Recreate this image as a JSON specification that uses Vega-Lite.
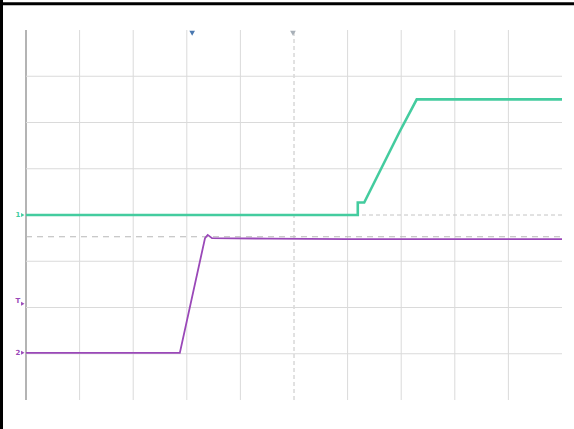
{
  "$schema": "https://vega.github.io/schema/vega-lite/v6.json",
  "width": 536,
  "height": 370,
  "autosize": {"type": "none"},
  "padding": {"left": 26, "top": 30, "right": 12, "bottom": 29},
  "background": "white",
  "config": {"view": {"stroke": null}},
  "layer": [
    {
      "data": {"values": [{"x": 1}, {"x": 2}, {"x": 3}, {"x": 4}, {"x": 6}, {"x": 7}, {"x": 8}, {"x": 9}]},
      "mark": {"type": "rule", "color": "#dadada", "strokeWidth": 1},
      "encoding": {
        "x": {"field": "x", "type": "quantitative", "scale": {"domain": [0, 10], "nice": false, "zero": false}, "axis": null},
        "y": {"datum": 0, "type": "quantitative", "scale": {"domain": [0, 8], "nice": false, "zero": false}, "axis": null},
        "y2": {"datum": 8}
      }
    },
    {
      "data": {"values": [{"x": 5}]},
      "mark": {"type": "rule", "color": "#c4c4c4", "strokeWidth": 1, "strokeDash": [4, 3]},
      "encoding": {
        "x": {"field": "x", "type": "quantitative", "scale": {"domain": [0, 10], "nice": false, "zero": false}, "axis": null},
        "y": {"datum": 0, "type": "quantitative", "scale": {"domain": [0, 8], "nice": false, "zero": false}, "axis": null},
        "y2": {"datum": 8}
      }
    },
    {
      "data": {"values": [{"x": 0}]},
      "mark": {"type": "rule", "color": "#b4b4b4", "strokeWidth": 2},
      "encoding": {
        "x": {"field": "x", "type": "quantitative", "scale": {"domain": [0, 10], "nice": false, "zero": false}, "axis": null},
        "y": {"datum": 0, "type": "quantitative", "scale": {"domain": [0, 8], "nice": false, "zero": false}, "axis": null},
        "y2": {"datum": 8}
      }
    },
    {
      "data": {"values": [{"y": 1}, {"y": 2}, {"y": 3}, {"y": 5}, {"y": 6}, {"y": 7}]},
      "mark": {"type": "rule", "color": "#dadada", "strokeWidth": 1},
      "encoding": {
        "y": {"field": "y", "type": "quantitative", "scale": {"domain": [0, 8], "nice": false, "zero": false}, "axis": null},
        "x": {"datum": 0, "type": "quantitative", "scale": {"domain": [0, 10], "nice": false, "zero": false}, "axis": null},
        "x2": {"datum": 10}
      }
    },
    {
      "data": {"values": [{"y": 4}]},
      "mark": {"type": "rule", "color": "#c4c4c4", "strokeWidth": 1, "strokeDash": [4, 3]},
      "encoding": {
        "y": {"field": "y", "type": "quantitative", "scale": {"domain": [0, 8], "nice": false, "zero": false}, "axis": null},
        "x": {"datum": 0, "type": "quantitative", "scale": {"domain": [0, 10], "nice": false, "zero": false}, "axis": null},
        "x2": {"datum": 10}
      }
    },
    {
      "data": {"values": [{"y": 3.53}]},
      "mark": {"type": "rule", "color": "#b8b8b8", "strokeWidth": 1.2, "strokeDash": [6, 5]},
      "encoding": {
        "y": {"field": "y", "type": "quantitative", "scale": {"domain": [0, 8], "nice": false, "zero": false}, "axis": null},
        "x": {"datum": 0, "type": "quantitative", "scale": {"domain": [0, 10], "nice": false, "zero": false}, "axis": null},
        "x2": {"datum": 10}
      }
    },
    {
      "data": {"values": [
        {"t": 0, "x": 0, "y": 4.0},
        {"t": 1, "x": 6.19, "y": 4.0},
        {"t": 2, "x": 6.19, "y": 4.27},
        {"t": 3, "x": 6.31, "y": 4.27},
        {"t": 4, "x": 6.97, "y": 5.8},
        {"t": 5, "x": 7.29, "y": 6.5},
        {"t": 6, "x": 10, "y": 6.5}
      ]},
      "mark": {"type": "line", "color": "#44cc9f", "strokeWidth": 2.6, "interpolate": "linear"},
      "encoding": {
        "x": {"field": "x", "type": "quantitative", "scale": {"domain": [0, 10], "nice": false, "zero": false}, "axis": null},
        "y": {"field": "y", "type": "quantitative", "scale": {"domain": [0, 8], "nice": false, "zero": false}, "axis": null},
        "order": {"field": "t"}
      }
    },
    {
      "data": {"values": [
        {"t": 0, "x": 0, "y": 1.02},
        {"t": 1, "x": 2.87, "y": 1.02},
        {"t": 2, "x": 3.34, "y": 3.5},
        {"t": 3, "x": 3.39, "y": 3.57},
        {"t": 4, "x": 3.47, "y": 3.5},
        {"t": 5, "x": 4.5, "y": 3.49},
        {"t": 6, "x": 6.0, "y": 3.48},
        {"t": 7, "x": 10, "y": 3.48}
      ]},
      "mark": {"type": "line", "color": "#9a48b8", "strokeWidth": 1.8, "interpolate": "linear"},
      "encoding": {
        "x": {"field": "x", "type": "quantitative", "scale": {"domain": [0, 10], "nice": false, "zero": false}, "axis": null},
        "y": {"field": "y", "type": "quantitative", "scale": {"domain": [0, 8], "nice": false, "zero": false}, "axis": null},
        "order": {"field": "t"}
      }
    },
    {
      "data": {"values": [{"x": 3.1, "y": 7.93, "c": "a"}, {"x": 4.98, "y": 7.93, "c": "b"}]},
      "mark": {"type": "point", "shape": "triangle-down", "filled": true, "size": 32, "opacity": 1},
      "encoding": {
        "x": {"field": "x", "type": "quantitative", "scale": {"domain": [0, 10], "nice": false, "zero": false}, "axis": null},
        "y": {"field": "y", "type": "quantitative", "scale": {"domain": [0, 8], "nice": false, "zero": false}, "axis": null},
        "color": {"field": "c", "type": "nominal", "scale": {"domain": ["a", "b", "g", "p"], "range": ["#4a78b0", "#a8b0b8", "#44cc9f", "#9a48b8"]}, "legend": null}
      }
    },
    {
      "data": {"values": [
        {"x": -0.06, "y": 4.0, "c": "g"},
        {"x": -0.06, "y": 2.08, "c": "p"},
        {"x": -0.06, "y": 1.02, "c": "p"}
      ]},
      "mark": {"type": "point", "shape": "triangle-right", "filled": true, "size": 16, "opacity": 1},
      "encoding": {
        "x": {"field": "x", "type": "quantitative", "scale": {"domain": [0, 10], "nice": false, "zero": false}, "axis": null},
        "y": {"field": "y", "type": "quantitative", "scale": {"domain": [0, 8], "nice": false, "zero": false}, "axis": null},
        "color": {"field": "c", "type": "nominal", "scale": {"domain": ["a", "b", "g", "p"], "range": ["#4a78b0", "#a8b0b8", "#44cc9f", "#9a48b8"]}, "legend": null}
      }
    },
    {
      "data": {"values": [
        {"x": -0.15, "y": 4.0, "c": "g", "label": "1"},
        {"x": -0.15, "y": 2.15, "c": "p", "label": "T"},
        {"x": -0.15, "y": 1.02, "c": "p", "label": "2"}
      ]},
      "mark": {"type": "text", "fontSize": 7, "font": "DejaVu Sans", "fontWeight": "bold", "align": "center", "baseline": "middle"},
      "encoding": {
        "x": {"field": "x", "type": "quantitative", "scale": {"domain": [0, 10], "nice": false, "zero": false}, "axis": null},
        "y": {"field": "y", "type": "quantitative", "scale": {"domain": [0, 8], "nice": false, "zero": false}, "axis": null},
        "text": {"field": "label"},
        "color": {"field": "c", "type": "nominal", "scale": {"domain": ["a", "b", "g", "p"], "range": ["#4a78b0", "#a8b0b8", "#44cc9f", "#9a48b8"]}, "legend": null}
      }
    },
    {
      "data": {"values": [{"x": -0.457, "y": -0.7, "y2": 8.7}]},
      "mark": {"type": "rule", "color": "#000000", "strokeWidth": 3},
      "encoding": {
        "x": {"field": "x", "type": "quantitative", "scale": {"domain": [0, 10], "nice": false, "zero": false}, "axis": null},
        "y": {"field": "y", "type": "quantitative", "scale": {"domain": [0, 8], "nice": false, "zero": false}, "axis": null},
        "y2": {"field": "y2"}
      }
    },
    {
      "data": {"values": [{"y": 8.57, "x": -0.5, "x2": 10.3}]},
      "mark": {"type": "rule", "color": "#000000", "strokeWidth": 3},
      "encoding": {
        "y": {"field": "y", "type": "quantitative", "scale": {"domain": [0, 8], "nice": false, "zero": false}, "axis": null},
        "x": {"field": "x", "type": "quantitative", "scale": {"domain": [0, 10], "nice": false, "zero": false}, "axis": null},
        "x2": {"field": "x2"}
      }
    }
  ]
}
